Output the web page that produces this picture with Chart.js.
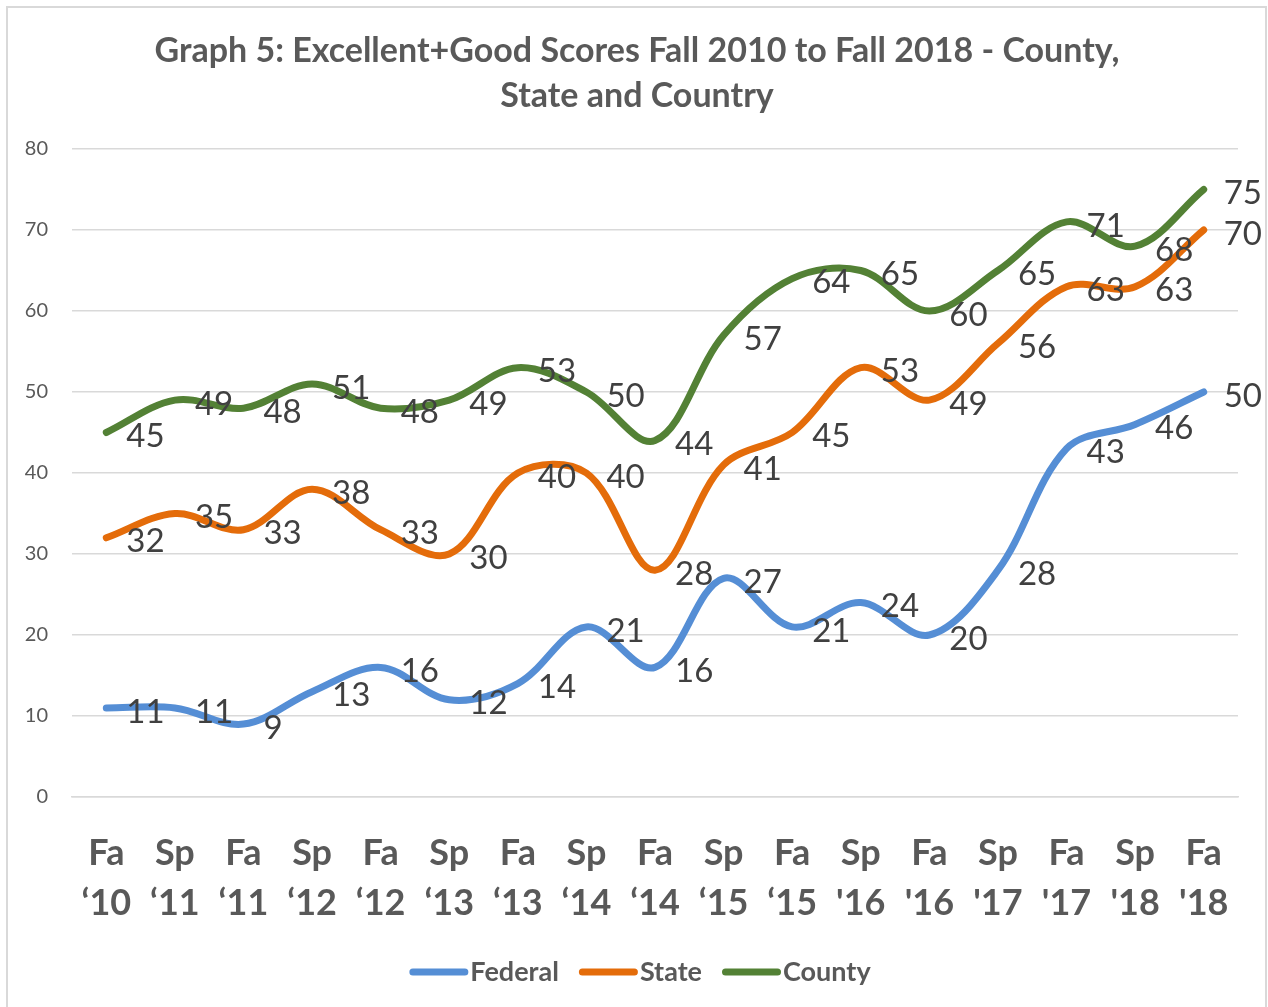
<!DOCTYPE html>
<html>
<head>
<meta charset="utf-8">
<script src="https://cdn.jsdelivr.net/npm/chart.js@4"></script>
<style>
html,body{margin:0;padding:0;background:#fff;}
#wrap{width:1268px;height:1007px;position:relative;}
</style>
</head>
<body>
<div id="wrap"><canvas id="c" width="1268" height="1007"></canvas></div>
<script>
const categories = [
  ['Fa','‘10'],['Sp','‘11'],['Fa','‘11'],['Sp','‘12'],['Fa','‘12'],['Sp','‘13'],
  ['Fa','‘13'],['Sp','‘14'],['Fa','‘14'],['Sp','‘15'],['Fa','‘15'],['Sp',"'16"],
  ['Fa',"'16"],['Sp',"'17"],['Fa',"'17"],['Sp',"'18"],['Fa',"'18"]
];
const federal = [11, 11, 9, 13, 16, 12, 14, 21, 16, 27, 21, 24, 20, 28, 43, 46, 50];
const state   = [32, 35, 33, 38, 33, 30, 40, 40, 28, 41, 45, 53, 49, 56, 63, 63, 70];
const county  = [45, 49, 48, 51, 48, 49, 53, 50, 44, 57, 64, 65, 60, 65, 71, 68, 75];
const seriesNames = ['Federal', 'State', 'County'];
const yTicks = [0, 10, 20, 30, 40, 50, 60, 70, 80];
const titleLines = ['Graph 5: Excellent+Good Scores Fall 2010 to Fall 2018 - County,', 'State and Country'];

const colors = ['#558ED5', '#E46C0A', '#538135'];
const FONT = 'Lato, "Open Sans", sans-serif';

const decorPlugin = {
  id: 'decor',
  beforeDraw(chart) {
    const ctx = chart.ctx;
    ctx.save();
    ctx.fillStyle = '#fff';
    ctx.fillRect(0, 0, chart.width, chart.height);
    ctx.strokeStyle = '#D9D9D9';
    ctx.lineWidth = 2;
    ctx.strokeRect(7, 7, 1259, 1005);
    ctx.restore();
  },
  afterDatasetsDraw(chart) {
    const ctx = chart.ctx;
    ctx.save();
    ctx.font = '33px ' + FONT;
    ctx.fillStyle = '#404040';
    ctx.textAlign = 'left';
    ctx.textBaseline = 'middle';
    chart.data.datasets.forEach((ds, i) => {
      const meta = chart.getDatasetMeta(i);
      meta.data.forEach((pt, j) => {
        ctx.fillText(String(ds.data[j]), pt.x + 20, pt.y + 4);
      });
    });
    ctx.restore();
  },
  afterDraw(chart) {
    const ctx = chart.ctx;
    ctx.save();
    // title
    ctx.font = 'bold 34px ' + FONT;
    ctx.fillStyle = '#595959';
    ctx.textAlign = 'center';
    ctx.textBaseline = 'middle';
    ctx.fillText(titleLines[0], 637, 51);
    ctx.fillText(titleLines[1], 637, 96);
    // legend
    ctx.font = 'bold 27px ' + FONT;
    const markW = 59, gap = 20;
    const items = chart.data.datasets.map(ds => ({label: ds.label, color: ds.borderColor, w: ctx.measureText(ds.label).width}));
    let total = items.reduce((s, it) => s + markW + 2 + it.w, 0) + gap * (items.length - 1);
    let x = 640 - total / 2;
    const y = 972;
    ctx.textAlign = 'left';
    items.forEach(it => {
      ctx.strokeStyle = it.color;
      ctx.lineWidth = 7;
      ctx.lineCap = 'round';
      ctx.beginPath();
      ctx.moveTo(x + 3.5, y);
      ctx.lineTo(x + markW - 3.5, y);
      ctx.stroke();
      ctx.fillStyle = '#595959';
      ctx.fillText(it.label, x + markW + 2, y);
      x += markW + 2 + it.w + gap;
    });
    ctx.restore();
  }
};

const datasetsData = [federal, state, county];
new Chart(document.getElementById('c'), {
  type: 'line',
  data: {
    labels: categories,
    datasets: datasetsData.map((d, i) => ({
      label: seriesNames[i],
      data: d,
      borderColor: colors[i],
      backgroundColor: colors[i],
      borderWidth: 7,
      pointRadius: 0,
      pointHoverRadius: 0,
      tension: 0.35,
      borderCapStyle: 'round',
      borderJoinStyle: 'round',
      fill: false
    }))
  },
  options: {
    responsive: false,
    animation: false,
    devicePixelRatio: 1,
    layout: { padding: { left: 0, right: 30, top: 149, bottom: 90 } },
    plugins: {
      legend: { display: false },
      title: { display: false },
      tooltip: { enabled: false }
    },
    scales: {
      x: {
        offset: true,
        grid: { display: false, drawTicks: false },
        border: { display: true, color: '#D9D9D9', width: 1.5 },
        ticks: {
          color: '#595959',
          font: { family: FONT, size: 36, weight: 'bold', lineHeight: 1.39 },
          padding: 31,
          maxRotation: 0,
          autoSkip: false
        },
        afterFit(scale) { scale.height = 120; }
      },
      y: {
        min: 0, max: 80,
        afterBuildTicks(scale) { scale.ticks = yTicks.map(v => ({ value: v })); },
        grid: { color: '#D9D9D9', lineWidth: 1.5, drawTicks: false },
        border: { display: false },
        ticks: {
          color: '#595959',
          font: { family: FONT, size: 20 },
          padding: 24
        },
        afterFit(scale) { scale.width = 72; }
      }
    }
  },
  plugins: [decorPlugin]
});
</script>
</body>
</html>
